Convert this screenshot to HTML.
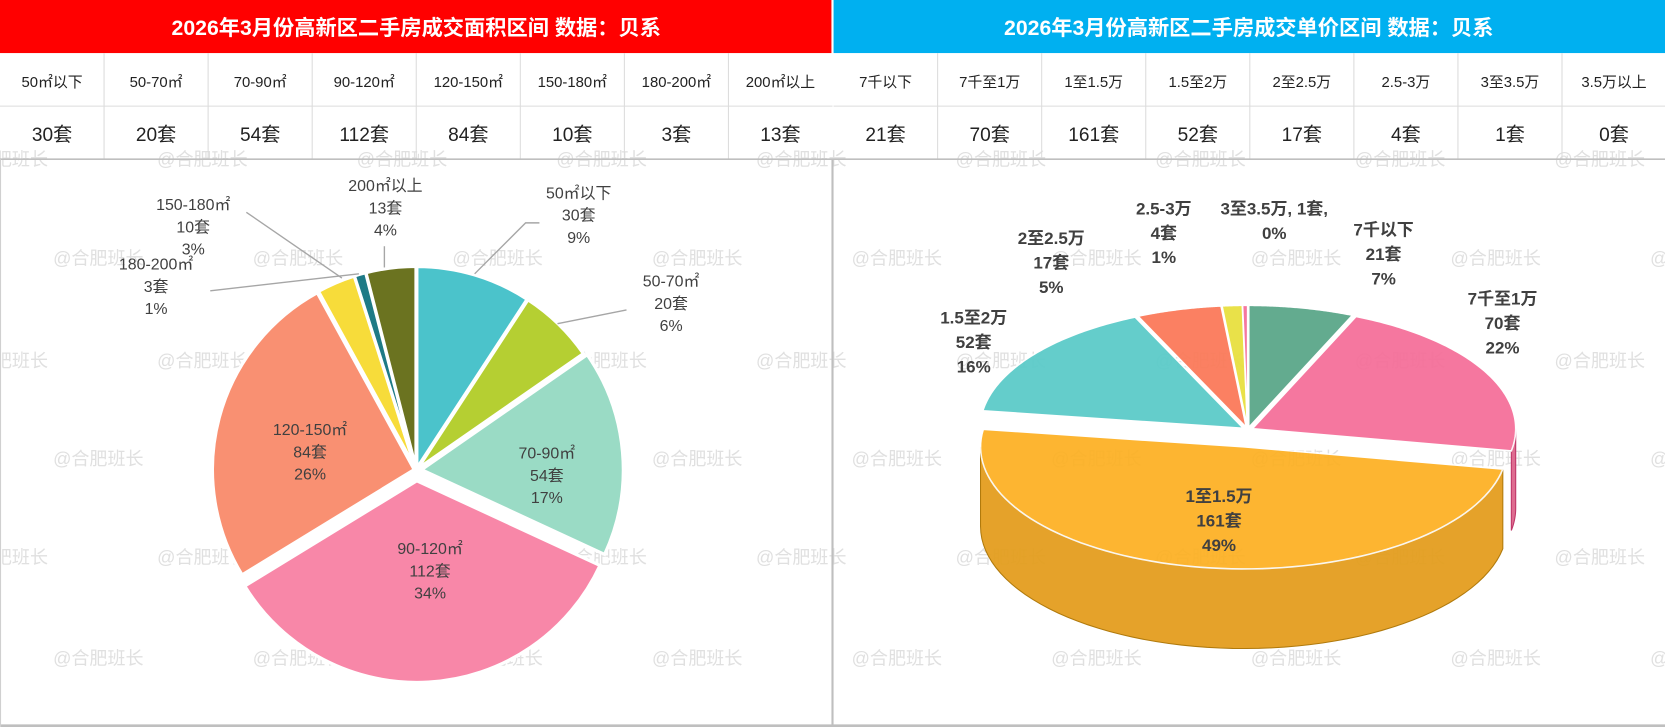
<!DOCTYPE html>
<html><head><meta charset="utf-8"><style>
html,body{margin:0;padding:0;background:#fff;}
svg{display:block;font-family:"Liberation Sans","Noto Sans CJK SC",sans-serif;}
</style></head><body>
<svg id="root" width="1665" height="727" viewBox="0 0 1568 685" preserveAspectRatio="none" xmlns="http://www.w3.org/2000/svg">
<rect x="0" y="0" width="1568" height="685" fill="#fff"/>
<g id="wm"></g>
<rect x="0" y="0" width="783" height="50" fill="#FF0000"/>
<text x="392" y="33" text-anchor="middle" fill="#fff" font-size="20" font-weight="bold">2026年3月份高新区二手房成交面积区间 数据：贝系</text>
<rect x="785" y="0" width="783" height="50" fill="#00B0F0"/>
<text x="1176" y="33" text-anchor="middle" fill="#fff" font-size="20" font-weight="bold">2026年3月份高新区二手房成交单价区间 数据：贝系</text>
<g id="tables"></g>
<line x1="784" y1="150" x2="784" y2="685" stroke="#bfbfbf" stroke-width="2"/>
<line x1="0" y1="150" x2="1568" y2="150" stroke="#bfbfbf" stroke-width="1.5"/>
<line x1="0" y1="684" x2="1568" y2="684" stroke="#bfbfbf" stroke-width="3"/>
<line x1="0.5" y1="150" x2="0.5" y2="685" stroke="#d0d0d0"/>
<g id="pie1"></g>
<g id="pie2"></g>
</svg>
<script>
const NS="http://www.w3.org/2000/svg";
function mk(tag,attrs,parent,txt){const e=document.createElementNS(NS,tag);for(const k in attrs)e.setAttribute(k,attrs[k]);if(txt!==undefined)e.textContent=txt;parent.appendChild(e);return e;}

const areaCats=["50㎡以下","50-70㎡","70-90㎡","90-120㎡","120-150㎡","150-180㎡","180-200㎡","200㎡以上"];
const areaVals=[30,20,54,112,84,10,3,13];
const areaPcts=["9%","6%","17%","34%","26%","3%","1%","4%"];
const areaColors=["#4BC3CB","#B5CF32","#9ADBC5","#F887A8","#F99072","#F7DC3A","#1E7A86","#6B7320"];
const priceCats=["7千以下","7千至1万","1至1.5万","1.5至2万","2至2.5万","2.5-3万","3至3.5万","3.5万以上"];
const priceVals=[21,70,161,52,17,4,1,0];
const pricePcts=["7%","22%","49%","16%","5%","1%","0%","0%"];
const priceColors=["#5BA78A","#F5709A","#FDB022","#5CCBC9","#FB7A5A","#E8E040","#F5709A","#999"];

// watermarks
const wm=document.getElementById('wm');
[150,243,340,432,525,620].forEach((y,i)=>{const off=i%2?50:-40;for(let x=off;x<1600;x+=188){
 const t=mk('text',{x:x,y:y+6,'font-size':17,fill:'#e0e0e0'},wm,'@合肥班长');
 
 
}});

// tables
const tb=document.getElementById('tables');
function table(x0,cats,vals){
 const w=98;
 for(let i=0;i<8;i++){
  const x=x0+i*w;
  if(i>0)mk('line',{x1:x,y1:50,x2:x,y2:150,stroke:'#dcdcdc'},tb);
  const h=mk('text',{x:x+w/2,y:82,'text-anchor':'middle','font-size':14,fill:'#222'},tb,cats[i]);
  
  
  const v=mk('text',{x:x+w/2,y:133,'text-anchor':'middle','font-size':18,fill:'#222'},tb,vals[i]+'套');
  
  
 }
 mk('line',{x1:x0,y1:100,x2:x0+8*w,y2:100,stroke:'#dcdcdc'},tb);
}
table(0,areaCats,areaVals);table(785,priceCats,priceVals);

// pie 1
const p1=document.getElementById('pie1');
const total1=areaVals.reduce((a,b)=>a+b,0);
const c1={x:392,y:443,r:190};
let acc=0;
areaVals.forEach((v,i)=>{
 const a0=acc/total1*2*Math.PI;acc+=v;const a1=acc/total1*2*Math.PI;
 const mid=(a0+a1)/2;const ex=i===3?10:(i===2?5:2);
 const cx=c1.x+ex*Math.sin(mid),cy=c1.y-ex*Math.cos(mid);
 const large=(a1-a0)>Math.PI?1:0;
 const d=`M${cx},${cy}L${cx+c1.r*Math.sin(a0)},${cy-c1.r*Math.cos(a0)}A${c1.r},${c1.r} 0 ${large} 1 ${cx+c1.r*Math.sin(a1)},${cy-c1.r*Math.cos(a1)}Z`;
 const s=mk('path',{d:d,fill:areaColors[i],stroke:'#fff','stroke-width':3},p1);
 
 
});
const lbl1=[[545,187],[632,270],[515,432],[405,522],[292,410],[182,198],[147,254],[363,180]];
const leaders1=[[[447,258],[495,210],[508,210]],[[525,305],[590,292]],null,null,null,[[322,262],[232,200]],[[338,258],[198,274]],[[362,252],[362,232]]];
areaVals.forEach((v,i)=>{
 if(leaders1[i])mk('polyline',{points:leaders1[i].map(p=>p.join(',')).join(' '),fill:'none',stroke:'#a6a6a6','stroke-width':1.3},p1);
 const lines=[areaCats[i],v+'套',areaPcts[i]];
 const g=mk('text',{'text-anchor':'middle','font-size':15,fill:'#404040'},p1);
 
 
 lines.forEach((t,k)=>mk('tspan',{x:lbl1[i][0],y:lbl1[i][1]+k*21},g,t));
});

// pie 2 (3D)
const p2=document.getElementById('pie2');
const total2=priceVals.reduce((a,b)=>a+b,0);
const c2={x:1175,y:405,rx:248,ry:115,d:75};
function P(cx,cy,a,dz){return [cx+c2.rx*Math.sin(a),cy-c2.ry*Math.cos(a)+dz];}
const slices=[];acc=0;
priceVals.forEach((v,i)=>{const a0=acc/total2*2*Math.PI;acc+=v;const a1=acc/total2*2*Math.PI;slices.push([a0,a1,i]);});
function drawSlice(a0,a1,i){
 if(a1-a0<1e-6)return;
 const mid=(a0+a1)/2;const ex=i===2?22:5;
 const cx=c2.x+ex*Math.sin(mid),cy=c2.y-ex*Math.cos(mid)*c2.ry/c2.rx+(i===2?6:0);
 const col=priceColors[i];
 const s0=Math.max(a0,Math.PI/2),s1=Math.min(a1,3*Math.PI/2);
 if(s1>s0){
  let pts=[];const n=60;
  for(let k=0;k<=n;k++){const a=s0+(s1-s0)*k/n;pts.push(P(cx,cy,a,0));}
  for(let k=n;k>=0;k--){const a=s0+(s1-s0)*k/n;pts.push(P(cx,cy,a,c2.d));}
  const w=mk('polygon',{points:pts.map(p=>p.join(',')).join(' '),fill:col,stroke:i===2?'#C08000':'#D0306a','stroke-width':1,opacity:0.95,filter:'brightness(0.9)'},p2);
  
  
 }
 let pts=[[cx,cy]];const n=80;
 for(let k=0;k<=n;k++){pts.push(P(cx,cy,a0+(a1-a0)*k/n,0));}
 const t=mk('polygon',{points:pts.map(p=>p.join(',')).join(' '),fill:col,stroke:'#fff','stroke-width':1.5,opacity:i===2?0.93:0.95},p2);
 
 
}
slices.filter(s=>s[2]!==2).forEach(s=>drawSlice(...s));
slices.filter(s=>s[2]===2).forEach(s=>drawSlice(...s));
const lbl2=[[1303,222],[1415,287],[1148,473],[917,305],[990,230],[1096,202],[1200,202]];
priceVals.forEach((v,i)=>{
 if(i>6)return;
 const lines=i===6?[priceCats[i]+', '+v+'套,',pricePcts[i]]:[priceCats[i],v+'套',pricePcts[i]];
 const g=mk('text',{'text-anchor':'middle','font-size':16,'font-weight':'bold',fill:'#404040'},p2);
 
 
 lines.forEach((t,k)=>mk('tspan',{x:lbl2[i][0],y:lbl2[i][1]+k*23},g,t));
});
</script>
</body></html>
